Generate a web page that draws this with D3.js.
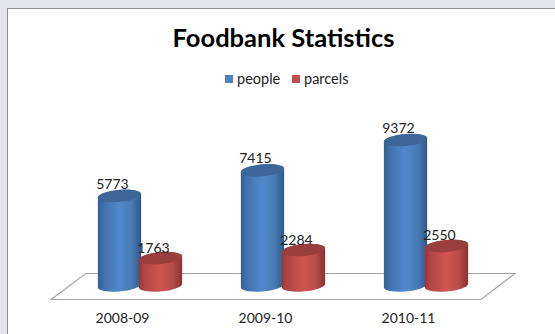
<!DOCTYPE html>
<html>
<head>
<meta charset="utf-8">
<script src="https://cdn.jsdelivr.net/npm/d3@7"></script>
<style>
html,body{margin:0;padding:0;background:#fff;overflow:hidden}
svg{display:block}
text{font-family:Lato,"Open Sans",sans-serif}
</style>
</head>
<body>
<svg id="c" width="555" height="334"></svg>
<script>
const categories = ["2008-09","2009-10","2010-11"];
const people = [5773,7415,9372];
const parcels = [1763,2284,2550];
const seriesNames = ["people","parcels"];
const seriesColors = ["#4f81bd","#c0504d"];

const svg = d3.select("#c");
const defs = svg.append("defs");

function grad(id, stops){
  const g = defs.append("linearGradient").attr("id",id).attr("x1","0").attr("x2","1").attr("y1","0").attr("y2","0");
  stops.forEach(s=>g.append("stop").attr("offset",s[0]).attr("stop-color",s[1]));
}
grad("bodyBlue",[[0,"#33608f"],[0.12,"#3f70ab"],[0.5,"#5289cc"],[0.78,"#477ab5"],[1,"#30598a"]]);
grad("bodyRed",[[0,"#933735"],[0.12,"#b04543"],[0.5,"#cf5552"],[0.78,"#b84c49"],[1,"#893331"]]);
const bodies = ["url(#bodyBlue)","url(#bodyRed)"];
const tops = ["#3d6799","#9a3f3d"];

// frame
svg.append("rect").attr("width",555).attr("height",334).attr("fill","#e3e3ef");
svg.append("rect").attr("x",7.5).attr("y",8.5).attr("width",560).attr("height",340).attr("fill","#fff").attr("stroke","#8f8f8f").attr("stroke-width",1);

// title
svg.append("text").attr("x",283.5).attr("y",46.5).attr("text-anchor","middle")
  .attr("font-size",25.5).attr("font-weight",700).attr("fill","#000").text("Foodbank Statistics");

// legend
const legendPos = [[225,237],[292,304]];
seriesNames.forEach((n,i)=>{
  svg.append("rect").attr("x",legendPos[i][0]).attr("y",75).attr("width",8).attr("height",8).attr("fill",seriesColors[i]);
  svg.append("text").attr("x",legendPos[i][1]).attr("y",84).attr("font-size",14.5).attr("fill","#222").text(n);
});

// scales
const x = d3.scalePoint().domain(categories).range([122,408]);
const y = d3.scaleLinear().domain([0,9372]).range([285.5,140]);
const barOffset = [-2.5,38.5];
const labelDy = [-7,-5.5];

// floor
const floor = d3.path();
floor.moveTo(51,299.5); floor.lineTo(86,273.5); floor.lineTo(515,273.5); floor.lineTo(481,299.5); floor.closePath();
svg.append("path").attr("d",floor.toString()).attr("fill","#fff").attr("stroke","#a3a3a3").attr("stroke-width",1.2);

// cylinder
const rx=21.7, ry=6, deg=-5, th=deg*Math.PI/180;
const w=Math.sqrt(rx*rx*Math.cos(th)**2+ry*ry*Math.sin(th)**2);
const dy=(rx*rx-ry*ry)*Math.sin(th)*Math.cos(th)/w;
function cylinder(g,cx,yt,i){
  const yb=y(0);
  const body=`M${cx-w},${yt-dy}L${cx-w},${yb-dy}A${rx},${ry} ${deg} 0 0 ${cx+w},${yb+dy}L${cx+w},${yt+dy}A${rx},${ry} ${deg} 0 0 ${cx-w},${yt-dy}Z`;
  g.append("path").attr("d",body).attr("fill",bodies[i]);
  g.append("ellipse").attr("rx",rx).attr("ry",ry)
    .attr("transform",`translate(${cx},${yt}) rotate(${deg})`).attr("fill",tops[i]);
}

const series=[people,parcels];
const barsG=svg.append("g");
categories.forEach((c,k)=>{
  series.forEach((vals,i)=>{
    cylinder(barsG.append("g"),x(c)+barOffset[i],y(vals[k]),i);
  });
});
// value labels
categories.forEach((c,k)=>{
  series.forEach((vals,i)=>{
    svg.append("text").attr("x",x(c)+barOffset[i]-7).attr("y",y(vals[k])+labelDy[i])
      .attr("text-anchor","middle").attr("font-size",14).attr("fill","#222").text(vals[k]);
  });
});

// axis
const ax=svg.append("g").attr("transform","translate(0,305)").call(d3.axisBottom(x).tickSize(0).tickPadding(8));
ax.select(".domain").remove();
ax.selectAll("text").attr("font-size",14).attr("fill","#222").style("font-family","Lato,'Open Sans',sans-serif");
</script>
</body>
</html>
